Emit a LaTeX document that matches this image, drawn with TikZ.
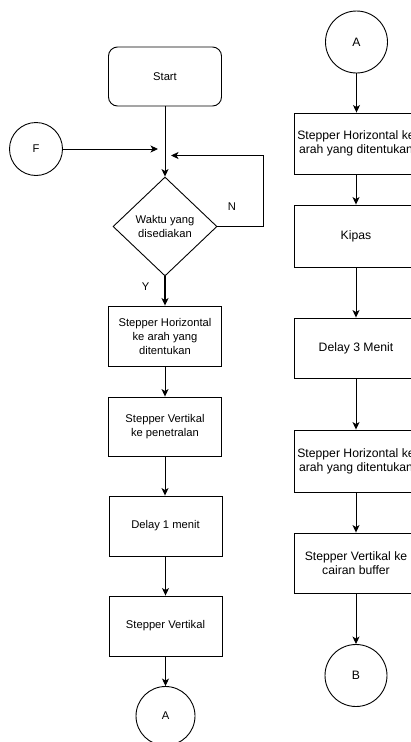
\documentclass[tikz,border=0pt]{standalone}
\usepackage{fontspec}
\setmainfont{Liberation Sans}
\usetikzlibrary{arrows.meta,shapes.geometric}
\begin{document}
\begin{tikzpicture}[x=1pt,y=-1pt,
  line width=0.9pt,
  arr/.style={-{Stealth[length=7.5pt,width=7pt,inset=2pt]}},
  lbox/.style={draw,rectangle,minimum width=113pt,minimum height=60pt,inner sep=0pt,align=center,font=\fontsize{11.2}{14}\selectfont},
  rbox/.style={draw,rectangle,minimum width=124pt,minimum height=61pt,inner sep=0pt,align=center,font=\fontsize{12.2}{14}\selectfont},
  conn/.style={draw,circle,inner sep=0pt,font=\fontsize{11.2}{14}\selectfont},
  lbl/.style={inner sep=0pt,font=\fontsize{11.2}{14}\selectfont}]
\clip (0,0) rectangle (411,742);
\fill[white] (0,0) rectangle (411,742);
% left column
\node[draw,rectangle,rounded corners=9pt,minimum width=113pt,minimum height=59pt,inner sep=0pt,font=\fontsize{11.2}{14}\selectfont] (start) at (165,76.5) {Start};
\node[conn,minimum size=53pt] (F) at (36,149) {F};
\node[draw,diamond,inner sep=0pt,minimum width=104pt,minimum height=99pt,align=center,font=\fontsize{11.2}{14}\selectfont] (dec) at (165,226.5) {Waktu yang\\disediakan};
\coordinate (fin) at (158,149);
\coordinate (nin) at (171,155.5);
\coordinate (nc1) at (263,226.5);
\coordinate (nc2) at (263,155.5);
\node[lbl] (N) at (232,207) {N};
\node[lbl] (Y) at (145.5,287) {Y};
\node[lbox] (b1) at (165,336) {Stepper Horizontal\\ke arah yang\\ditentukan};
\node[lbox,minimum height=59pt] (b2) at (165,426.5) {Stepper Vertikal\\ke penetralan};
\node[lbox] (b3) at (165.5,526) {Delay 1 menit};
\node[lbox] (b4) at (165.5,626) {Stepper Vertikal};
\node[conn,minimum size=59pt] (A1) at (165.5,716) {A};
\draw[arr] (start) -- (dec);
\draw[arr] (F) -- (fin);
\draw[arr] (dec.east) -- (nc1) -- (nc2) -- (nin);
\draw[arr,line width=1.7pt] (dec.south) -- (b1.north);
\draw[arr] (b1) -- (b2);
\draw[arr] (b2.south) -- (b2.south |- b3.north);
\draw[arr] (b3) -- (b4);
\draw[arr] (b4) -- (A1);
% right column
\node[conn,minimum size=62pt,font=\fontsize{12.2}{14}\selectfont] (A2) at (356.5,42) {A};
\node[rbox] (r1) at (356,143.5) {Stepper Horizontal ke\\arah yang ditentukan};
\node[rbox,minimum height=62pt] (r2) at (356,236) {Kipas};
\node[rbox,minimum height=60pt] (r3) at (356,348) {Delay 3 Menit};
\node[rbox,minimum height=62pt] (r4) at (356,461) {Stepper Horizontal ke\\arah yang ditentukan};
\node[rbox,minimum height=60pt] (r5) at (356,563) {Stepper Vertikal ke\\cairan buffer};
\node[conn,minimum size=62pt,font=\fontsize{12.2}{14}\selectfont] (B) at (356,675.5) {B};
\draw[arr] (A2) -- (A2 |- r1.north);
\draw[arr] (r1) -- (r2);
\draw[arr] (r2) -- (r3);
\draw[arr] (r3) -- (r4);
\draw[arr] (r4) -- (r5);
\draw[arr] (r5) -- (B);
\end{tikzpicture}
\end{document}
